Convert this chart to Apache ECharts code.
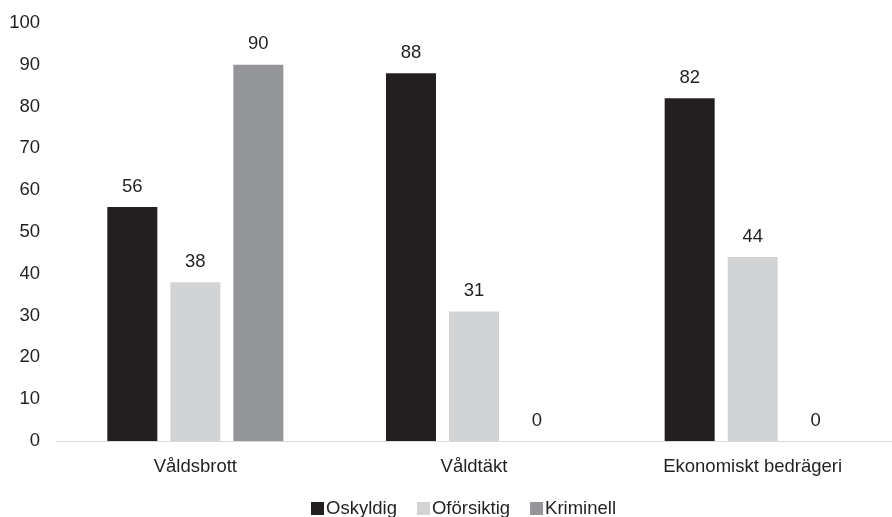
<!DOCTYPE html>
<html><head><meta charset="utf-8">
<script src="https://cdn.jsdelivr.net/npm/echarts@6/dist/echarts.min.js"></script>
<style>html,body{margin:0;padding:0;background:#fff}#c{width:892px;height:517px}</style>
</head><body><div id="c"></div>
<script>
const categories = ['Våldsbrott', 'Våldtäkt', 'Ekonomiskt bedrägeri'];
const oskyldig = [56, 88, 82];
const oforsiktig = [38, 31, 44];
const kriminell = [90, 0, 0];
const seriesNames = ['Oskyldig', 'Oförsiktig', 'Kriminell'];

const font = 'Liberation Sans, Arial, sans-serif';
const textColor = '#231f20';
const fs = 18.5;
const lbl = {show: true, position: 'top', distance: 11, color: textColor, fontSize: fs, fontFamily: font};
const chart = echarts.init(document.getElementById('c'));
chart.setOption({
  animation: false,
  textStyle: {fontFamily: font},
  grid: {left: 56, right: -7, top: 23, bottom: 76, containLabel: false},
  legend: {
    top: 499, left: 311, padding: 0, itemWidth: 13, itemHeight: 13, itemGap: 20,
    icon: 'rect',
    textStyle: {fontSize: fs, color: textColor, fontFamily: font, padding: [0, 0, 0, -3]},
    data: seriesNames
  },
  xAxis: {
    type: 'category', data: categories,
    axisLine: {lineStyle: {color: '#d9d9d9', width: 1}},
    axisTick: {show: false},
    axisLabel: {fontSize: fs, color: textColor, margin: 16, fontFamily: font}
  },
  yAxis: {
    type: 'value', min: 0, max: 100, interval: 10,
    splitLine: {show: false}, axisLine: {show: false}, axisTick: {show: false},
    axisLabel: {fontSize: fs, color: textColor, margin: 16, fontFamily: font}
  },
  series: [
    {name: seriesNames[0], type: 'bar', data: oskyldig, barWidth: 50, barGap: '26%', itemStyle: {color: '#231f20'}, label: lbl},
    {name: seriesNames[1], type: 'bar', data: oforsiktig, barWidth: 50, barGap: '26%', itemStyle: {color: '#d1d3d4'}, label: lbl},
    {name: seriesNames[2], type: 'bar', data: kriminell, barWidth: 50, barGap: '26%', itemStyle: {color: '#939598'}, label: lbl}
  ]
});
</script></body></html>
